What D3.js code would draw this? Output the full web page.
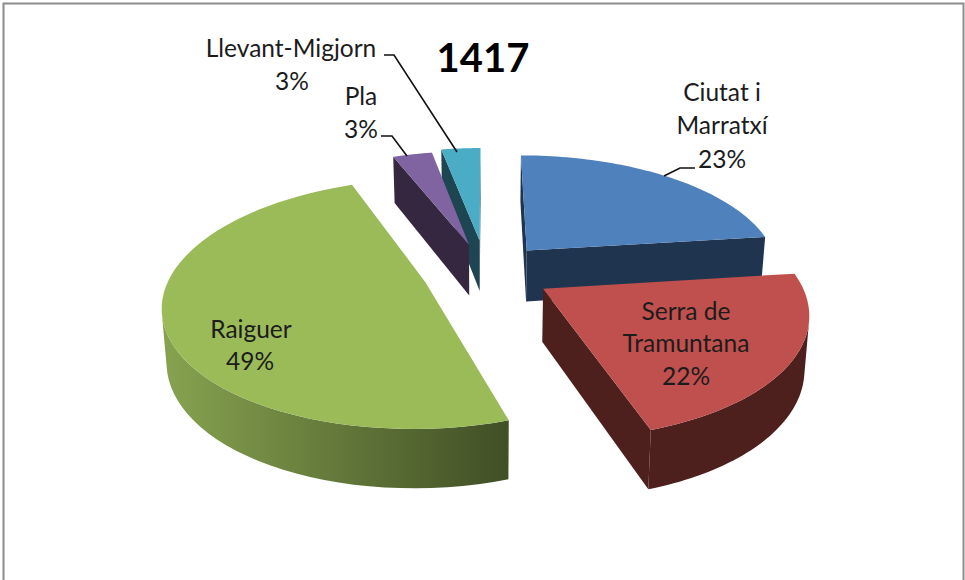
<!DOCTYPE html>
<html>
<head>
<meta charset="utf-8">
<script src="https://cdnjs.cloudflare.com/ajax/libs/d3/7.8.5/d3.min.js"></script>
<style>
html,body{margin:0;padding:0;background:#fff;overflow:hidden}
svg{display:block}
text{font-family:Lato,"Open Sans",sans-serif;fill:#1c1c1c}
</style>
</head>
<body>
<svg id="c" width="965" height="580"></svg>
<script>
const categories = ["Ciutat i Marratxí", "Serra de Tramuntana", "Raiguer", "Pla", "Llevant-Migjorn"];
const values = [23, 22, 49, 3, 3];
const explode = [0.25, 0.26, 0.25, 0.25, 0.28];
const topColors = ["#4f81bd", "#c0504d", "#9bbb59", "#8064a2", "#4bacc6"];
const wallColors = ["#1f344f", "#4d1f1d", "url(#greenWall)", "#35273f", "#1e4552"];
const titleText = "1417";

const width = 965, height = 580;
const cx = 486, cy = 272, depth = 52, persp = 0.17, lean = 0.015;
const sx = d3.scaleLinear().domain([-1, 1]).range([-254, 254]);
const sz = d3.scaleLinear().domain([-1, 1]).range([118, -118]);
const svg = d3.select("#c");

const grad = svg.append("defs").append("linearGradient")
  .attr("id", "greenWall").attr("gradientUnits", "userSpaceOnUse")
  .attr("x1", 162).attr("x2", 515).attr("y1", 0).attr("y2", 0);
grad.append("stop").attr("offset", 0).attr("stop-color", "#87a350");
grad.append("stop").attr("offset", 1).attr("stop-color", "#3f4d24");

svg.append("path")
  .attr("d", `M3.5,${height} V3.5 H${width - 1.5} V${height}`)
  .attr("fill", "none").attr("stroke", "#8c8c8c").attr("stroke-width", 2);

const project = (X, Z, down) => {
  const s = 1 / (1 + persp * Z);
  const x = cx + sx(X) * s, y = cy + sz(Z) * s;
  return down ? [x - (x - cx) * lean, y + depth * Math.pow(s, 0.65)] : [x, y];
};
const line = d3.line();
const closed = pts => line(pts) + "Z";
const area = pts => d3.polygonArea(pts);

const arcs = d3.pie().sort(null).value(d => d)(values);

const slices = arcs.map((a, i) => {
  const mid = (a.startAngle + a.endAngle) / 2;
  const ox = Math.sin(mid) * explode[i], oz = Math.cos(mid) * explode[i];
  const steps = d3.range(0, 61).map(k => a.startAngle + (a.endAngle - a.startAngle) * k / 60);
  const rim = steps.map(t => [ox + Math.sin(t), oz + Math.cos(t)]);
  return {i, ox, oz, rim, mid};
});

// paint order: back of the pie first
const paint = [4, 3, 0, 2, 1].map(i => slices[i]);

paint.forEach(sl => {
  const g = svg.append("g");
  const color = wallColors[sl.i];
  const apex = [sl.ox, sl.oz];
  const ring = [apex, ...sl.rim, apex];
  const topPts = ring.map(p => project(p[0], p[1], false));
  const orient = Math.sign(area(topPts.slice(0, -1)));
  const faces = [];
  let run = [];
  for (let k = 0; k < ring.length - 1; k++) {
    const a = project(ring[k][0], ring[k][1], false);
    const b = project(ring[k + 1][0], ring[k + 1][1], false);
    const a2 = project(ring[k][0], ring[k][1], true);
    const b2 = project(ring[k + 1][0], ring[k + 1][1], true);
    const vis = Math.sign(area([a, b, b2, a2])) !== orient;
    if (vis) {
      const radial = k === 0 || k === ring.length - 2;
      if (radial) faces.push([a, b, b2, a2]);
      else run.push([a, b, b2, a2]);
    }
  }
  if (run.length) {
    const up = [run[0][0], ...run.map(q => q[1])];
    const lo = [run[0][3], ...run.map(q => q[2])];
    faces.push([...up, ...lo.reverse()]);
  }
  faces.forEach(f => g.append("path").attr("d", closed(f)).attr("fill", color));
  g.append("path").attr("d", closed(topPts.slice(0, -1))).attr("fill", topColors[sl.i]);
});

// leader lines
const leaders = [
  [[664,176],[680,168],[695,168]],
  [[407,156],[392,136],[381,136]],
  [[457,152],[394,55],[384,55]]
];
leaders.forEach(p => svg.append("path").attr("d", line(p))
  .attr("fill", "none").attr("stroke", "#111").attr("stroke-width", 1.6));

// labels
const pct = i => values[i] + "%";
const labels = [
  {x: 722, y: 101, t: "Ciutat i"},
  {x: 722, y: 134, t: "Marratxí"},
  {x: 722, y: 168, t: pct(0)},
  {x: 686, y: 320, t: "Serra de"},
  {x: 686, y: 352, t: "Tramuntana"},
  {x: 686, y: 385, t: pct(1)},
  {x: 251, y: 338, t: categories[2]},
  {x: 250, y: 370, t: pct(2)},
  {x: 361, y: 105, t: categories[3]},
  {x: 361, y: 138, t: pct(3)},
  {x: 291, y: 57, t: categories[4]},
  {x: 292, y: 90, t: pct(4)}
];
svg.append("g").selectAll("text").data(labels).join("text")
  .attr("x", d => d.x).attr("y", d => d.y)
  .attr("text-anchor", "middle").attr("font-size", 24.5)
  .text(d => d.t);

svg.append("text").attr("x", 483).attr("y", 72).attr("text-anchor", "middle")
  .attr("font-size", 40).attr("font-weight", 700).style("fill", "#000").text(titleText);
</script>
</body>
</html>
